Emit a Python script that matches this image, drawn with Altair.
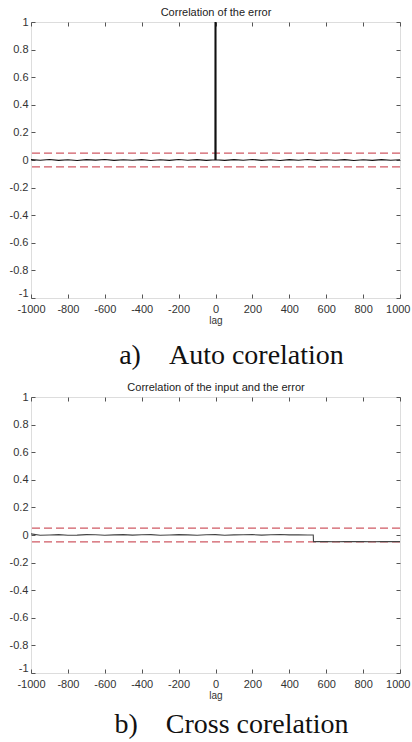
import altair as alt
import pandas as pd

# ---- data ----
acf_lags = [-1000, -950, -900, -850, -800, -750, -700, -650, -600, -550,
            -500, -450, -400, -350, -300, -250, -200, -150, -100, -50,
            -1, 0, 1,
            50, 100, 150, 200, 250, 300, 350, 400, 450, 500,
            550, 600, 650, 700, 750, 800, 850, 900, 950, 1000]
acf_vals = [0.003, -0.002, 0.004, -0.003, 0.002, -0.004, 0.003, -0.001, 0.004, -0.003,
            0.002, -0.002, 0.003, -0.004, 0.002, -0.003, 0.004, -0.002, 0.003, -0.003,
            0.002, 1.0, 0.002,
            -0.003, 0.003, -0.002, 0.004, -0.003, 0.002, -0.004, 0.003, -0.002, 0.004,
            -0.003, 0.002, -0.002, 0.003, -0.004, 0.002, -0.003, 0.003, -0.002, 0.002]

spike_lag = [0]
spike_val = [1.0]

ccf_lags = [-1000, -950, -900, -850, -800, -750, -700, -650, -600, -550,
            -500, -450, -400, -350, -300, -250, -200, -150, -100, -50,
            0, 50, 100, 150, 200, 250, 300, 350, 400, 450, 500, 530,
            531, 550, 600, 650, 700, 750, 800, 850, 900, 950, 1000]
ccf_vals = [0.008, -0.002, 0.000, 0.003, -0.002, -0.001, 0.003, 0.002, -0.002, 0.001,
            0.003, -0.001, 0.002, 0.003, -0.002, 0.000, 0.003, 0.001, -0.002, 0.002,
            0.003, -0.002, 0.001, 0.002, 0.003, -0.001, 0.002, 0.004, 0.001, 0.002, 0.000, 0.000,
            -0.048, -0.047, -0.048, -0.049, -0.047, -0.048, -0.047, -0.049, -0.048, -0.047, -0.048]

bounds = [0.05, -0.05]

titles = ["Correlation of the error", "Correlation of the input and the error"]
NB = "\u00a0"
captions = ["a)" + NB * 4 + "Auto corelation", "b)" + NB * 4 + "Cross corelation"]

x_ticks = [-1000, -800, -600, -400, -200, 0, 200, 400, 600, 800, 1000]
y_ticks = [-1, -0.8, -0.6, -0.4, -0.2, 0, 0.2, 0.4, 0.6, 0.8, 1]

W, H = 369, 276

xs = alt.Scale(domain=[-1000, 1000], nice=False, zero=False)
ys = alt.Scale(domain=[-1, 1], nice=False, zero=False)

LBL = dict(labelFont="Liberation Sans", labelFontSize=11, labelColor="#333")


def main_axes(title_x):
    xa = alt.Axis(orient="bottom", values=x_ticks, domain=False, grid=False,
                  tickSize=4, offset=-4, tickColor="#555", labelPadding=5,
                  labelExpr="'' + datum.value", title=title_x,
                  titleFont="Liberation Sans", titleFontSize=10,
                  titleFontWeight="normal", titleColor="#333",
                  titlePadding=1, labelFlush=False,
                  labelAlign={"condition": {"test": "datum.value == 1000", "value": "right"},
                              "value": "center"},
                  labelOffset={"condition": {"test": "datum.value == 1000", "value": 10},
                               "value": 0},
                  **LBL)
    ya = alt.Axis(orient="left", values=y_ticks, domain=False, grid=False,
                  tickSize=4, offset=-4, tickColor="#555", labelPadding=3,
                  labelExpr="'' + datum.value", title=None, labelFlush=False,
                  labelBaseline={"condition": {"test": "datum.value == -1", "value": "bottom"},
                                 "value": "middle"},
                  **LBL)
    return xa, ya


def second_axes(top_title):
    xa = alt.Axis(orient="top", values=x_ticks, domain=False, grid=False,
                  tickSize=4, offset=-4, tickColor="#555", labels=False,
                  title=top_title, titleFont="Liberation Sans", titleFontSize=11,
                  titleFontWeight="normal", titleColor="#222", titlePadding=4)
    ya = alt.Axis(orient="right", values=y_ticks, domain=False, grid=False,
                  tickSize=4, offset=-4, tickColor="#555", labels=False, title=None)
    return xa, ya


def panel(lags, vals, top_title, caption, line_color, with_spike, cap_offset):
    df = pd.DataFrame({"lag": lags, "value": vals})
    bdf = pd.DataFrame({"b": bounds})
    xa, ya = main_axes("lag")
    xa2, ya2 = second_axes(top_title)

    line = alt.Chart(df).mark_line(color=line_color, strokeWidth=1.1).encode(
        x=alt.X("lag:Q", scale=xs, axis=xa),
        y=alt.Y("value:Q", scale=ys, axis=ya),
    )
    rules = alt.Chart(bdf).mark_rule(color="#d05a64", strokeDash=[8, 4], strokeWidth=1.3).encode(
        y=alt.Y("b:Q", scale=ys, axis=ya2),
    )
    topx = alt.Chart(df).mark_point(opacity=0).encode(
        x=alt.X("lag:Q", scale=xs, axis=xa2),
    )
    layers = [rules, line, topx]
    if with_spike:
        sdf = pd.DataFrame({"lag": spike_lag, "v": spike_val})
        spike = alt.Chart(sdf).mark_rule(color="#111", strokeWidth=2).encode(
            x=alt.X("lag:Q", scale=xs, axis=None),
            y=alt.Y("z:Q", scale=ys, axis=None),
            y2="v:Q",
        ).transform_calculate(z="0")
        layers.append(spike)
    ch = alt.layer(*layers).resolve_axis(x="independent", y="independent").properties(
        width=W, height=H,
        title=alt.TitleParams(caption, orient="bottom", font="Liberation Serif",
                              fontSize=28, fontWeight="normal", color="#111",
                              offset=cap_offset, dx=16),
    )
    return ch


a = panel(acf_lags, acf_vals, titles[0], captions[0], "#111", True, 17)
b = panel(ccf_lags, ccf_vals, titles[1], captions[1], "#444", False, 11)

chart = alt.vconcat(a, b, spacing=10).properties(
    padding={"left": 8, "top": 6, "right": 0, "bottom": 0}
).configure_view(stroke="#666", strokeWidth=1.2).configure(background="white")

chart.save("out.html", embed_options={"renderer": "svg", "actions": False})
